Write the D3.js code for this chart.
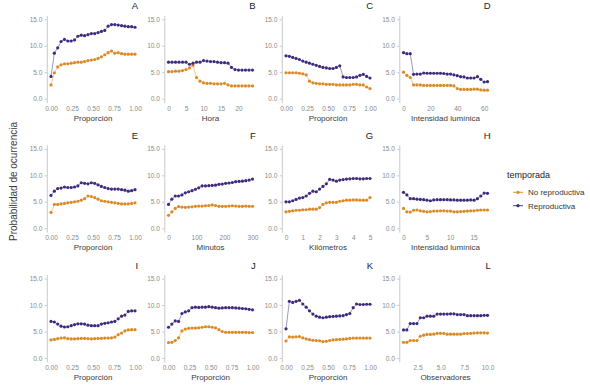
<!DOCTYPE html>
<html><head><meta charset="utf-8">
<script src="https://cdn.jsdelivr.net/npm/d3@7"></script>
<style>body{margin:0;background:#fff}svg{display:block}text{font-family:"Liberation Sans",Arial,sans-serif}</style>
</head><body><svg id="c" width="590" height="390"></svg>
<script>
const seasons = ["No reproductiva", "Reproductiva"];
const seasonColors = ["#DB8A26", "#3E2A7E"];
const letters = ["A","B","C","D","E","F","G","H","I","J","K","L"];
const xTitles = ["Proporción","Hora","Proporción","Intensidad lumínica","Proporción","Minutos","Kilómetros","Intensidad lumínica","Proporción","Proporción","Proporción","Observadores"];
const yTicks = [0, 5, 10, 15];
const yTitle = "Probabilidad de ocurrencia";

const xProp = [0,0.04,0.08,0.12,0.16,0.2,0.24,0.28,0.32,0.36,0.4,0.44,0.48,0.52,0.56,0.6,0.64,0.68,0.72,0.76,0.8,0.84,0.88,0.92,0.96,1];
const xHora = [0,1,2,3,4,5,6,7,8,9,10,11,12,13,14,15,16,17,18,19,20,21,22,23,24];
const xMin = [0,12,24,36,48,60,72,84,96,108,120,132,144,156,168,180,192,204,216,228,240,252,264,276,288,300];
const xKm = [0,0.2,0.4,0.6,0.8,1,1.2,1.4,1.6,1.8,2,2.2,2.4,2.6,2.8,3,3.2,3.4,3.6,3.8,4,4.2,4.4,4.6,4.8,5];
const xLuzD = [0,2.5,5,7.5,10,12.5,15,17.5,20,22.5,25,27.5,30,32.5,35,37.5,40,42.5,45,47.5,50,52.5,55,57.5,60,62.5];
const xLuzH = [0,0.72,1.44,2.16,2.88,3.6,4.32,5.04,5.76,6.48,7.2,7.92,8.64,9.36,10.08,10.8,11.52,12.24,12.96,13.68,14.4,15.12,15.84,16.56,17.28,18];
const xObs = [1,1.36,1.72,2.08,2.44,2.8,3.16,3.52,3.88,4.24,4.6,4.96,5.32,5.68,6.04,6.4,6.76,7.12,7.48,7.84,8.2,8.56,8.92,9.28,9.64,10];

const ticksProp = [0, 0.25, 0.5, 0.75, 1];
const ticksHora = [0, 5, 10, 15, 20];
const ticksLuzD = [0, 20, 40, 60];
const ticksMin = [0, 100, 200, 300];
const ticksKm = [0, 1, 2, 3, 4, 5];
const ticksLuzH = [0, 5, 10, 15];
const ticksObs = [2.5, 5, 7.5, 10];

const noRepA = [2.6,4.9,6.0,6.4,6.6,6.6,6.7,6.8,6.9,6.9,7.0,7.2,7.3,7.4,7.6,7.9,8.3,8.7,9.0,8.6,8.7,8.5,8.4,8.4,8.4,8.4];
const repA = [4.2,8.6,9.6,10.8,11.2,10.9,10.9,11.1,11.8,12.0,11.9,12.1,12.3,12.3,12.5,12.7,12.9,13.7,14.0,14.0,13.9,13.8,13.7,13.6,13.6,13.5];
const noRepB = [5.1,5.1,5.2,5.2,5.3,5.5,5.8,6.3,4.0,3.3,3.0,2.9,2.9,2.8,2.8,2.8,2.9,2.6,2.4,2.4,2.4,2.4,2.4,2.4,2.4];
const repB = [6.9,6.9,6.9,6.9,6.9,6.9,6.5,6.7,6.9,6.9,7.2,7.1,7.0,7.0,6.9,6.8,6.8,6.7,5.9,5.5,5.4,5.4,5.4,5.4,5.4];
const noRepC = [4.9,4.9,4.9,4.9,4.8,4.7,4.5,3.3,3.0,2.9,2.8,2.8,2.7,2.7,2.7,2.6,2.6,2.6,2.6,2.6,2.7,2.7,2.6,2.6,2.2,1.9];
const repC = [8.1,8.0,7.8,7.6,7.4,7.1,6.9,6.7,6.5,6.3,6.1,5.9,5.8,5.7,5.7,5.9,6.2,4.1,4.0,4.0,4.0,4.1,4.4,4.6,4.2,3.9];
const noRepD = [5.0,4.4,4.0,2.6,2.6,2.6,2.5,2.5,2.5,2.5,2.5,2.5,2.5,2.5,2.5,2.4,1.9,1.75,1.75,1.75,1.75,1.8,1.8,1.65,1.6,1.6];
const repD = [8.7,8.5,8.5,4.6,4.65,4.65,4.85,4.8,4.8,4.8,4.8,4.8,4.75,4.65,4.65,4.5,4.35,4.15,4.1,3.9,3.9,3.9,4.15,3.65,3.15,3.2];
const noRepE = [3.0,4.5,4.5,4.6,4.7,4.8,4.9,5.0,5.1,5.3,5.6,6.1,6.0,5.8,5.5,5.2,5.1,5.0,4.9,4.8,4.7,4.6,4.6,4.6,4.7,4.8];
const repE = [6.2,7.0,7.5,7.6,7.8,7.7,7.7,7.8,8.0,8.6,8.5,8.4,8.6,8.5,8.2,7.9,7.7,7.5,7.4,7.4,7.4,7.3,7.2,7.0,7.1,7.3];
const noRepF = [2.45,3.1,3.75,4.1,4.0,3.95,4.0,4.05,4.15,4.2,4.2,4.25,4.3,4.4,4.3,4.15,4.15,4.15,4.2,4.25,4.2,4.15,4.15,4.2,4.15,4.15];
const repF = [4.5,5.5,6.1,6.1,6.3,6.7,6.9,7.1,7.35,7.65,8.0,8.0,8.05,8.1,8.15,8.3,8.35,8.5,8.55,8.65,8.8,8.85,8.9,9.0,9.1,9.3];
const noRepG = [3.1,3.2,3.3,3.4,3.4,3.5,3.5,3.6,3.6,3.6,3.9,4.5,4.8,4.9,4.9,4.9,5.1,5.2,5.3,5.3,5.35,5.35,5.3,5.3,5.3,5.8];
const repG = [5.0,5.0,5.2,5.45,5.7,5.8,6.1,6.6,7.0,6.9,7.4,7.9,8.4,9.25,9.1,8.9,9.1,9.2,9.3,9.35,9.4,9.4,9.35,9.35,9.4,9.4];
const noRepH = [3.75,3.1,3.05,3.4,3.45,3.3,3.2,3.1,3.15,3.25,3.25,3.3,3.3,3.25,3.25,3.1,3.1,3.15,3.2,3.25,3.3,3.3,3.4,3.45,3.45,3.45];
const repH = [6.8,6.3,5.6,5.6,5.5,5.45,5.4,5.3,5.2,5.35,5.4,5.4,5.4,5.4,5.35,5.35,5.3,5.3,5.3,5.3,5.35,5.3,5.6,6.1,6.65,6.6];
const noRepI = [3.4,3.5,3.65,3.75,3.8,3.65,3.6,3.6,3.65,3.7,3.7,3.65,3.6,3.65,3.7,3.7,3.75,3.75,3.8,3.95,4.4,4.7,5.1,5.3,5.35,5.35];
const repI = [6.9,6.8,6.4,6.0,5.85,5.9,6.1,6.3,6.45,6.45,6.4,6.2,6.1,6.1,6.1,6.4,6.55,6.65,6.8,6.9,7.4,7.9,8.1,8.8,8.9,8.9];
const noRepJ = [2.9,2.95,3.3,3.8,5.1,5.45,5.6,5.65,5.65,5.7,5.8,5.9,5.9,5.8,5.7,5.35,5.0,4.85,4.85,4.85,4.85,4.85,4.85,4.85,4.8,4.8];
const repJ = [5.8,6.4,7.0,6.9,8.4,8.7,8.9,9.5,9.6,9.55,9.6,9.6,9.7,9.6,9.5,9.4,9.45,9.5,9.5,9.5,9.45,9.4,9.35,9.3,9.2,9.1];
const noRepK = [3.2,4.0,3.95,4.0,4.05,3.8,3.6,3.45,3.35,3.3,3.25,3.1,3.15,3.3,3.4,3.45,3.5,3.55,3.6,3.7,3.75,3.75,3.75,3.75,3.75,3.75];
const repK = [5.5,10.7,10.5,10.7,10.9,10.2,9.6,8.9,8.3,7.9,7.7,7.6,7.7,7.8,7.85,7.9,7.95,8.0,8.2,8.4,9.5,10.2,10.1,10.1,10.15,10.15];
const noRepL = [2.95,2.95,3.3,3.3,3.3,4.1,4.3,4.45,4.45,4.5,4.65,4.65,4.65,4.5,4.5,4.5,4.5,4.5,4.6,4.6,4.65,4.7,4.75,4.75,4.75,4.7];
const repL = [5.3,5.3,6.5,6.5,6.5,7.6,7.6,7.9,7.9,7.9,8.3,8.3,8.3,8.3,8.35,8.35,8.2,8.2,8.2,8.0,8.0,8.0,8.0,8.0,8.05,8.05];

const panelX = [xProp, xHora, xProp, xLuzD, xProp, xMin, xKm, xLuzH, xProp, xProp, xProp, xObs];
const panelTicks = [ticksProp, ticksHora, ticksProp, ticksLuzD, ticksProp, ticksMin, ticksKm, ticksLuzH, ticksProp, ticksProp, ticksProp, ticksObs];
const panelFmt = [".2f","d",".2f","d",".2f","d","d","d",".2f",".2f",".2f",".1f"];
const panelNoRep = [noRepA,noRepB,noRepC,noRepD,noRepE,noRepF,noRepG,noRepH,noRepI,noRepJ,noRepK,noRepL];
const panelRep = [repA,repB,repC,repD,repE,repF,repG,repH,repI,repJ,repK,repL];

// layout
const colX0 = [51, 168.5, 286, 403.5];   // pixel where data minimum sits
const dataW = 84;
const rowY15 = [19.3, 148.9, 278.6];     // pixel of 15
const unitH = 5.29;
const font = '"Liberation Sans", Arial, sans-serif';

const svg = d3.select("#c");

letters.forEach((L, i) => {
  const col = i % 4, row = Math.floor(i / 4);
  const xs = panelX[i];
  const ext = d3.extent(xs);
  const span = ext[1] - ext[0];
  const x0 = colX0[col];
  const x = d3.scaleLinear()
    .domain([ext[0] - 0.05 * span, ext[1] + 0.05 * span])
    .range([x0 - 0.05 * dataW, x0 + dataW * 1.05]);
  const top = rowY15[row] - 0.75 * unitH;
  const bottom = rowY15[row] + 15.75 * unitH;
  const y = d3.scaleLinear().domain([-0.75, 15.75]).range([bottom, top]);

  const g = svg.append("g");

  // y axis
  const ya = g.append("g").attr("transform", `translate(${x.range()[0]},0)`)
    .call(d3.axisLeft(y).tickValues(yTicks).tickFormat(d3.format(".1f")).tickSize(2).tickSizeOuter(0).tickPadding(2.5));
  ya.select(".domain").attr("stroke", "#c4c4c4").attr("stroke-width", 0.9);
  ya.selectAll(".tick line").attr("stroke", "#c4c4c4");
  ya.selectAll(".tick text").attr("fill", "#8a8a8a").style("font-size", "6.5px").style("font-family", font);

  // x axis (labels only)
  const xa = g.append("g").attr("transform", `translate(0,${bottom})`)
    .call(d3.axisBottom(x).tickValues(panelTicks[i]).tickFormat(d3.format(panelFmt[i])).tickSize(0).tickPadding(3.6));
  xa.select(".domain").remove();
  xa.selectAll(".tick text").attr("fill", "#8a8a8a").style("font-size", "6.5px").style("font-family", font);

  // axis title
  g.append("text").attr("x", x0 + dataW / 2).attr("y", bottom + 18.2)
    .attr("text-anchor", "middle").attr("fill", "#3a3a3a")
    .style("font-size", "8px").text(xTitles[i]);

  // panel letter
  g.append("text").attr("x", x0 + dataW * 1.05 - 1).attr("y", rowY15[row] - 10)
    .attr("text-anchor", "end").attr("fill", "#1a1a1a")
    .style("font-size", "9.5px").text(L);

  // series
  [panelNoRep[i], panelRep[i]].forEach((vals, s) => {
    const pts = xs.map((xv, k) => [xv, vals[k]]);
    g.append("path").datum(pts)
      .attr("fill", "none").attr("stroke", seasonColors[s]).attr("stroke-opacity", 0.55).attr("stroke-width", 0.9)
      .attr("d", d3.line().x(d => x(d[0])).y(d => y(d[1])));
    g.selectAll(null).data(pts).enter().append("circle")
      .attr("cx", d => x(d[0])).attr("cy", d => y(d[1])).attr("r", 1.6)
      .attr("fill", seasonColors[s]);
  });
});

// y title
svg.append("text").attr("transform", "translate(13,181.5) rotate(-90)")
  .attr("text-anchor", "middle").attr("dominant-baseline", "central")
  .attr("fill", "#3a3a3a").style("font-size", "10px").text(yTitle);

// legend
const lg = svg.append("g");
lg.append("text").attr("x", 507).attr("y", 178).attr("fill", "#222").style("font-size", "9px").text("temporada");
seasons.forEach((s, k) => {
  const yy = 192.3 + k * 13.4;
  lg.append("line").attr("x1", 513).attr("x2", 523).attr("y1", yy).attr("y2", yy)
    .attr("stroke", seasonColors[k]).attr("stroke-width", 0.9);
  lg.append("circle").attr("cx", 518).attr("cy", yy).attr("r", 1.6).attr("fill", seasonColors[k]);
  lg.append("text").attr("x", 528).attr("y", yy + 2.8).attr("fill", "#333").style("font-size", "8px").text(s);
});
</script></body></html>
